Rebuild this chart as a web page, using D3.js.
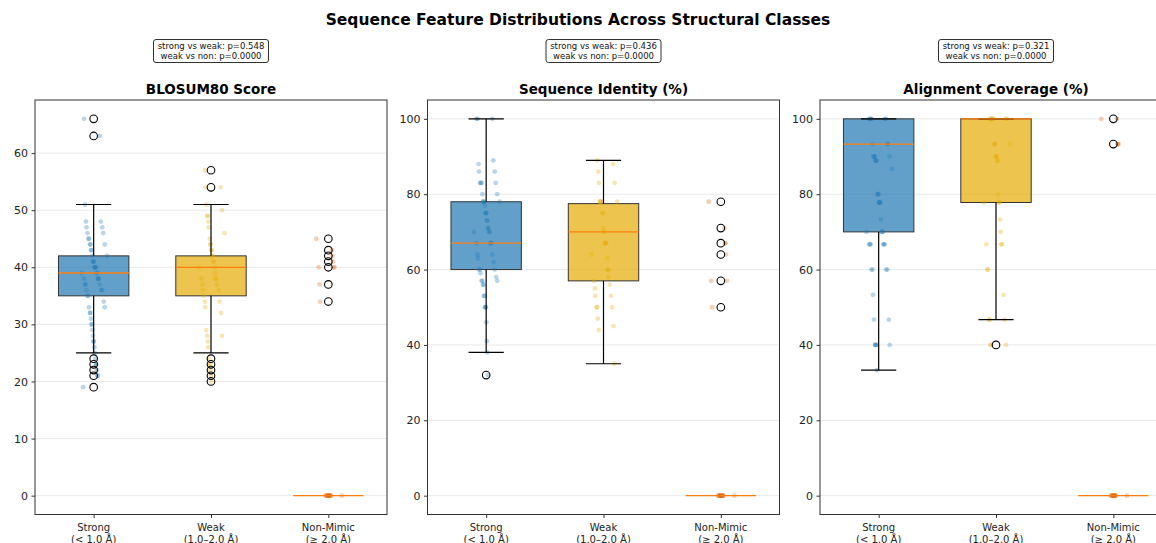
<!DOCTYPE html>
<html>
<head>
<meta charset="utf-8">
<script src="https://cdn.jsdelivr.net/npm/d3@7"></script>
<style>
  body { margin: 0; background: #fff; }
  text { font-family: "DejaVu Sans", sans-serif; }
</style>
</head>
<body>
<svg id="chart" width="1156" height="543"></svg>
<script>
// categories and labels
var classNames = ["Strong", "Weak", "Non-Mimic"];
var classRanges = ["(< 1.0 Å)", "(1.0–2.0 Å)", "(≥ 2.0 Å)"];
var panelTitles = ["BLOSUM80 Score", "Sequence Identity (%)", "Alignment Coverage (%)"];
var pStrongWeak = ["0.548", "0.436", "0.321"];
var pWeakNon = ["0.0000", "0.0000", "0.0000"];
var panelTicks = [[0, 10, 20, 30, 40, 50, 60], [0, 20, 40, 60, 80, 100], [0, 20, 40, 60, 80, 100]];
var panelDomains = [[-3.3, 69.3], [-5, 105], [-5, 105]];

// box stats per class: [whisker low, q1, median, q3, whisker high]
var blosumStats = [[25, 35, 39, 42, 51], [25, 35, 40, 42, 51], [0, 0, 0, 0, 0]];
var identityStats = [[38, 60, 67, 78, 100], [35, 57, 70, 77.5, 89], [0, 0, 0, 0, 0]];
var coverageStats = [[33.3, 70, 93.3, 100, 100], [46.7, 77.8, 100, 100, 100], [0, 0, 0, 0, 0]];

// outliers per class
var blosumOutliers = [[66, 63, 24, 23, 22, 21, 19], [57, 54, 24, 23, 22, 21, 20], [45, 43, 42, 41, 40, 37, 34]];
var identityOutliers = [[32], [], [78, 71, 67, 64, 57, 50]];
var coverageOutliers = [[], [40], [100, 93.3]];

// individual points per class
var blosumPoints = [
  [66, 63, 51, 48, 48, 47, 47, 46, 46, 45, 45, 44, 44, 44, 43, 43, 42, 42, 41, 41, 41, 40, 40, 40, 40,
   39, 39, 39, 38, 38, 38, 38, 37, 37, 37, 36, 36, 36, 35, 35, 34, 33, 33, 32, 32, 31, 30, 30, 29, 28,
   27, 27, 26, 25, 24, 23, 23, 22, 21, 21, 19],
  [57, 54, 54, 51, 50, 49, 49, 48, 47, 46, 45, 44, 44, 43, 43, 42, 42, 41, 41, 40, 40, 39, 38, 38, 38,
   37, 37, 36, 36, 35, 34, 34, 33, 32, 29, 28, 28, 27, 26, 24, 23, 23, 22, 21, 20],
  [0, 0, 0, 0, 0, 0, 0, 0, 0, 0, 0, 0, 45, 43, 42, 41, 40, 40, 40, 37, 34]
];
var identityPoints = [
  [100, 100, 100, 89, 88, 86, 86, 83, 83, 83, 83, 80, 80, 78, 78, 78, 78, 77, 75, 75, 75, 73, 73, 71, 71,
   70, 70, 70, 67, 67, 67, 67, 64, 64, 63, 62, 60, 60, 60, 59, 58, 57, 57, 57, 56, 56, 53, 53, 50, 50,
   50, 46, 41, 38, 32],
  [89, 88, 86, 83, 83, 78, 78, 78, 78, 78, 75, 75, 71, 70, 70, 67, 67, 67, 67, 64, 63, 60, 60, 58, 57,
   56, 55, 53, 53, 50, 50, 50, 47, 45, 44, 35],
  [0, 0, 0, 0, 0, 0, 0, 0, 0, 0, 0, 0, 78, 71, 67, 67, 64, 57, 57, 50]
];
var coveragePoints = [
  [100, 100, 100, 100, 100, 100, 93.3, 93.3, 93.3, 90, 90, 90, 90, 88.9, 88.9, 88.9, 86.7, 80, 80, 80,
   77.8, 77.8, 77.8, 77.8, 73.3, 70, 70, 70, 70, 66.7, 66.7, 66.7, 66.7, 66.7, 66.7, 60, 60, 60, 60,
   53.3, 46.7, 46.7, 40, 40, 40, 40, 40, 33.3],
  [100, 100, 100, 100, 100, 100, 100, 100, 93.3, 93.3, 93.3, 93.3, 90, 90, 90, 88.9, 88.9, 80, 77.8,
   77.8, 77.8, 73.3, 70, 66.7, 66.7, 66.7, 60, 60, 53.3, 46.7, 46.7, 46.7, 40, 40, 40],
  [0, 0, 0, 0, 0, 0, 0, 0, 0, 0, 0, 0, 100, 100, 93.3, 93.3, 93.3]
];

var allStats = [blosumStats, identityStats, coverageStats];
var allOutliers = [blosumOutliers, identityOutliers, coverageOutliers];
var allPoints = [blosumPoints, identityPoints, coveragePoints];

var boxColors = ["#1f77b4", "#e6ab02", "#d95f02"];
var panelLeft = [35, 427.5, 820];
var panelWidth = 352, panelTop = 100, panelBottom = 514.5;
var boxWidth = 0.6, capWidth = 0.3;

var svg = d3.select("#chart");

svg.append("text")
    .attr("x", 578).attr("y", 25)
    .attr("text-anchor", "middle")
    .style("font-size", "15.5px").style("font-weight", "bold")
    .text("Sequence Feature Distributions Across Structural Classes");

// small deterministic spread so dots don't sit on one line
function spread(i) {
  var a = (i * 0.6180339) % 1, b = (i * 0.4142135 + 0.37) % 1;
  return (a + b - 1) * 0.13;
}

panelTitles.forEach(function(title, p) {
  var x = d3.scaleLinear().domain([0.5, 3.5]).range([0, panelWidth]);
  var y = d3.scaleLinear().domain(panelDomains[p]).range([panelBottom - panelTop, 0]);
  var h = panelBottom - panelTop;
  var cx = panelLeft[p] + panelWidth / 2;

  var g = svg.append("g").attr("transform", "translate(" + panelLeft[p] + "," + panelTop + ")");

  // p-value annotation box
  var ann = svg.append("g");
  ann.append("rect")
      .attr("x", cx - 57.5).attr("y", 39.5).attr("width", 115).attr("height", 23)
      .attr("rx", 2.5)
      .attr("fill", "#fff").attr("stroke", "#333").attr("stroke-width", 1);
  ann.append("text").attr("x", cx).attr("y", 48.5).attr("text-anchor", "middle")
      .style("font-size", "8.5px").attr("fill", "#111")
      .text("strong vs weak: p=" + pStrongWeak[p]);
  ann.append("text").attr("x", cx).attr("y", 58.5).attr("text-anchor", "middle")
      .style("font-size", "8.5px").attr("fill", "#111")
      .text("weak vs non: p=" + pWeakNon[p]);

  svg.append("text")
      .attr("x", cx).attr("y", 93.5)
      .attr("text-anchor", "middle")
      .style("font-size", "13.5px").style("font-weight", "bold")
      .text(title);

  // grid
  g.selectAll(".grid")
    .data(panelTicks[p])
    .enter().append("line")
      .attr("x1", 0).attr("x2", panelWidth)
      .attr("y1", function(d) { return y(d); })
      .attr("y2", function(d) { return y(d); })
      .attr("stroke", "#e6e6e6").attr("stroke-width", 0.9);

  // boxes
  allStats[p].forEach(function(s, c) {
    var xc = x(c + 1), bw = x(1 + boxWidth) - x(1), cw = x(1 + capWidth) - x(1);
    g.append("rect")
        .attr("x", xc - bw / 2).attr("y", y(s[3]))
        .attr("width", bw).attr("height", Math.max(0, y(s[1]) - y(s[3])))
        .attr("fill", boxColors[c]).attr("fill-opacity", 0.7)
        .attr("stroke", "#333").attr("stroke-width", 1);
  });

  // points
  allPoints[p].forEach(function(vals, c) {
    g.selectAll(".pt" + c)
      .data(vals)
      .enter().append("circle")
        .attr("cx", function(d, i) { return x(c + 1 + spread(i + c * 7)); })
        .attr("cy", function(d) { return y(d); })
        .attr("r", 2.4)
        .attr("fill", boxColors[c]).attr("fill-opacity", 0.3);
  });

  allStats[p].forEach(function(s, c) {
    var xc = x(c + 1), bw = x(1 + boxWidth) - x(1), cw = x(1 + capWidth) - x(1);
    if (s[0] < s[1]) {
      g.append("line").attr("x1", xc).attr("x2", xc).attr("y1", y(s[1])).attr("y2", y(s[0]))
          .attr("stroke", "#000").attr("stroke-width", 1.2);
    }
    if (s[4] > s[3]) {
      g.append("line").attr("x1", xc).attr("x2", xc).attr("y1", y(s[3])).attr("y2", y(s[4]))
          .attr("stroke", "#000").attr("stroke-width", 1.2);
    }
    if (s[0] !== s[4]) {
      [s[0], s[4]].forEach(function(v) {
        g.append("line").attr("x1", xc - cw / 2).attr("x2", xc + cw / 2)
            .attr("y1", y(v)).attr("y2", y(v))
            .attr("stroke", "#000").attr("stroke-width", 1.2);
      });
    }
    g.append("line").attr("x1", xc - bw / 2).attr("x2", xc + bw / 2)
        .attr("y1", y(s[2])).attr("y2", y(s[2]))
        .attr("stroke", "#ff7f0e").attr("stroke-width", 1.3);
  });

  // outliers
  allOutliers[p].forEach(function(vals, c) {
    g.selectAll(".out" + c)
      .data(vals)
      .enter().append("circle")
        .attr("cx", x(c + 1))
        .attr("cy", function(d) { return y(d); })
        .attr("r", 3.8)
        .attr("fill", "none").attr("stroke", "#000").attr("stroke-width", 1.1);
  });

  // y axis
  var yAxis = g.append("g")
      .call(d3.axisLeft(y).tickValues(panelTicks[p]).tickSize(3.5).tickPadding(3.5));
  yAxis.select(".domain").remove();
  yAxis.selectAll("line").attr("stroke", "#333");
  yAxis.selectAll("text").style("font-size", "11px").attr("fill", "#222");

  // x axis
  var xAxis = g.append("g")
      .attr("transform", "translate(0," + h + ")")
      .call(d3.axisBottom(x).tickValues([1, 2, 3]).tickSize(3.5).tickFormat(""));
  xAxis.select(".domain").remove();
  xAxis.selectAll("line").attr("stroke", "#333");
  classNames.forEach(function(name, c) {
    var t = g.append("text")
        .attr("x", x(c + 1)).attr("y", h + 16)
        .attr("text-anchor", "middle")
        .style("font-size", "10px").attr("fill", "#222");
    t.append("tspan").attr("x", x(c + 1)).text(name);
    t.append("tspan").attr("x", x(c + 1)).attr("dy", 12).text(classRanges[c]);
  });

  // frame
  g.append("rect")
      .attr("x", 0).attr("y", 0).attr("width", panelWidth).attr("height", h)
      .attr("fill", "none").attr("stroke", "#333").attr("stroke-width", 1);
});
</script>
</body>
</html>
